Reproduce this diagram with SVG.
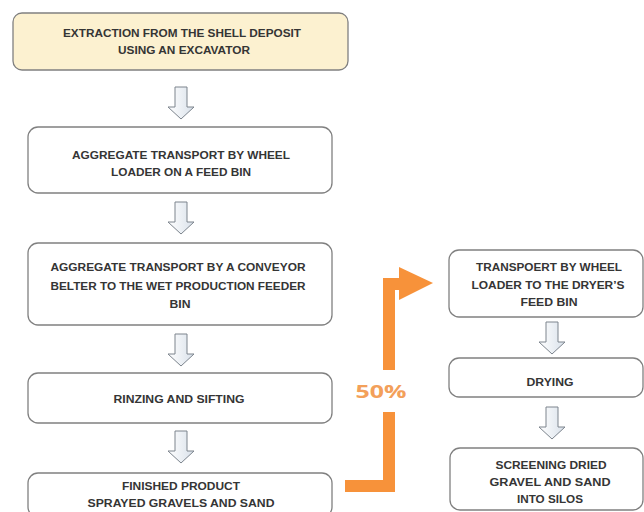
<svg xmlns="http://www.w3.org/2000/svg" xmlns:xlink="http://www.w3.org/1999/xlink" width="644" height="512" viewBox="0 0 644 512">
<style>
.box{fill:#ffffff;stroke:#808080;stroke-width:1.3}
.start{fill:#fcf1d0}
.t{font-family:"Liberation Sans",Arial,sans-serif;font-weight:bold;font-size:11px;fill:#353535;text-anchor:middle}
.tr{font-size:11.5px}
.flow{fill:none;stroke:#f7923a;stroke-width:12;stroke-linejoin:miter}
.pct{font-family:"Open Sans","Liberation Sans",sans-serif;font-weight:bold;font-size:17px;fill:#f3a05a;text-anchor:middle}
</style>
<defs>
<linearGradient id="ag" x1="0" y1="0" x2="1" y2="0">
<stop offset="0" stop-color="#ffffff"/>
<stop offset="1" stop-color="#d9e1ea"/>
</linearGradient>
<path id="down" d="M-6,0 H6 V20 H13 L0,32 L-13,20 H-6 Z" fill="url(#ag)" stroke="#7c848d" stroke-width="1"/>
</defs>
<rect width="644" height="512" fill="#ffffff"/>

<g id="n1">
<rect class="box start" x="13" y="13" width="335" height="57" rx="9"/>
<text class="t" x="182" y="37" textLength="238" lengthAdjust="spacingAndGlyphs">EXTRACTION FROM THE SHELL DEPOSIT</text>
<text class="t" x="184" y="54" textLength="132" lengthAdjust="spacingAndGlyphs">USING AN EXCAVATOR</text>
</g>
<g id="n2">
<rect class="box" x="28" y="127" width="304" height="66" rx="10"/>
<text class="t" x="181" y="159" textLength="218" lengthAdjust="spacingAndGlyphs">AGGREGATE TRANSPORT BY WHEEL</text>
<text class="t" x="181" y="176" textLength="140" lengthAdjust="spacingAndGlyphs">LOADER ON A FEED BIN</text>
</g>
<g id="n3">
<rect class="box" x="28" y="243" width="304" height="82" rx="10"/>
<text class="t" x="178" y="271" textLength="255" lengthAdjust="spacingAndGlyphs">AGGREGATE TRANSPORT BY A CONVEYOR</text>
<text class="t" x="178" y="290" textLength="255" lengthAdjust="spacingAndGlyphs">BELTER TO THE WET PRODUCTION FEEDER</text>
<text class="t" x="180" y="308" textLength="21" lengthAdjust="spacingAndGlyphs">BIN</text>
</g>
<g id="n4">
<rect class="box" x="28" y="373" width="304" height="50" rx="10"/>
<text class="t" x="179" y="403" textLength="131" lengthAdjust="spacingAndGlyphs">RINZING AND SIFTING</text>
</g>
<g id="n5">
<rect class="box" x="28" y="473" width="304" height="44" rx="10"/>
<text class="t" x="181" y="490" textLength="118" lengthAdjust="spacingAndGlyphs">FINISHED PRODUCT</text>
<text class="t" x="181" y="507" textLength="187" lengthAdjust="spacingAndGlyphs">SPRAYED GRAVELS AND SAND</text>
</g>
<g id="n6">
<rect class="box" x="449" y="250" width="194" height="67" rx="10"/>
<text class="t tr" x="549" y="271" textLength="146" lengthAdjust="spacingAndGlyphs">TRANSPOERT BY WHEEL</text>
<text class="t tr" x="548" y="289" textLength="153" lengthAdjust="spacingAndGlyphs">LOADER TO THE DRYER’S</text>
<text class="t tr" x="549" y="306" textLength="57" lengthAdjust="spacingAndGlyphs">FEED BIN</text>
</g>
<g id="n7">
<rect class="box" x="449" y="358" width="194" height="39" rx="10"/>
<text class="t tr" x="550" y="386" textLength="47" lengthAdjust="spacingAndGlyphs">DRYING</text>
</g>
<g id="n8">
<rect class="box" x="450" y="448" width="193" height="62" rx="10"/>
<text class="t tr" x="551" y="469" textLength="111" lengthAdjust="spacingAndGlyphs">SCREENING DRIED</text>
<text class="t tr" x="550" y="486" textLength="121" lengthAdjust="spacingAndGlyphs">GRAVEL AND SAND</text>
<text class="t tr" x="550" y="503" textLength="66" lengthAdjust="spacingAndGlyphs">INTO SILOS</text>
</g>

<g id="connectors">
<use xlink:href="#down" x="181" y="87"/>
<use xlink:href="#down" x="181" y="202"/>
<use xlink:href="#down" x="181" y="334"/>
<use xlink:href="#down" x="181" y="431"/>
<use xlink:href="#down" x="552" y="322"/>
<use xlink:href="#down" x="552" y="407"/>
<path class="flow" d="M345,486 H389 V412"/>
<path class="flow" d="M389,370 V284 H401"/>
<polygon points="399,267 433,283 399,300" fill="#f7923a"/>
<text class="pct" x="381" y="398" textLength="51" lengthAdjust="spacingAndGlyphs">50%</text>
</g>
</svg>
